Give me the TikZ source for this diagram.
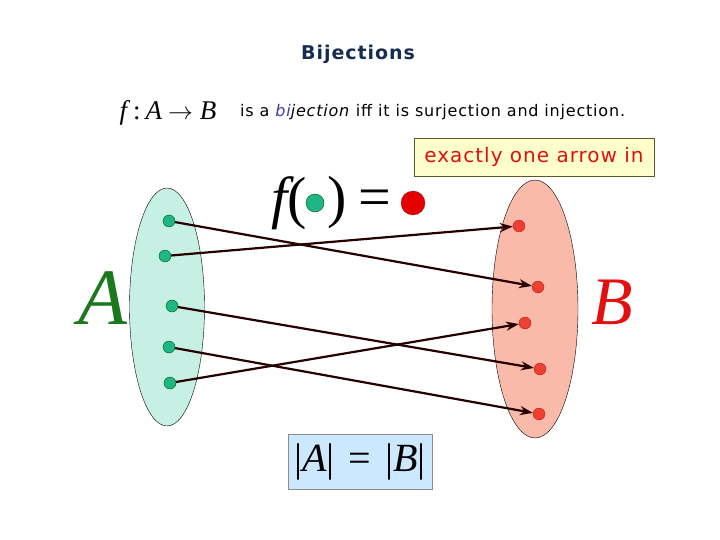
\documentclass[tikz,border=0pt]{standalone}
\usepackage{amsmath}
\usepackage{fontspec}
\setmainfont{Liberation Serif}
\newfontfamily\handfont[LetterSpace=5]{DejaVu Sans}
\usepackage{xcolor}
\usetikzlibrary{positioning,arrows.meta,shapes.geometric}
\definecolor{setAfill}{RGB}{198,240,228}
\definecolor{setBfill}{RGB}{250,186,170}
\definecolor{dotgreen}{RGB}{30,182,132}
\definecolor{dotred}{RGB}{238,64,48}
\definecolor{titleblue}{RGB}{22,44,80}
\definecolor{biblue}{RGB}{60,60,170}
\definecolor{greenA}{RGB}{28,120,28}
\definecolor{redB}{RGB}{226,16,16}
\definecolor{notefill}{RGB}{255,255,204}
\definecolor{eqfill}{RGB}{204,232,255}

\begin{document}
\begin{tikzpicture}[x=1pt, y=-1pt,
  setbox/.style={draw=black, thin, ellipse, inner sep=0pt},
  dotA/.style={circle, draw=green!35!black, fill=dotgreen, minimum size=12pt, inner sep=0pt},
  dotB/.style={circle, draw=red!60!black, very thin, fill=dotred, minimum size=12pt, inner sep=0pt},
  arr/.style={-{Stealth[length=13pt, width=9pt]}, line width=2.2pt, black!85!red},
  hand/.style={font=\handfont\fontsize{16}{19}\selectfont, inner sep=0pt},
  big/.style={font=\fontsize{58}{64}\selectfont, inner sep=0pt},
]
\useasboundingbox (0,0) rectangle (720,540);

% --- heading ---
\node[hand, font=\handfont\bfseries\fontsize{19}{23}\selectfont, text=titleblue] (title) at (358,54) {Bijections};
\node[inner sep=0pt, font=\fontsize{27}{30}\selectfont] (fmap) at (168,113)
  {\itshape f\upshape\hspace{6pt}:\hspace{5pt}\itshape A\hspace{6pt}\upshape$\rightarrow$\hspace{7pt}\itshape B};
\node[hand, anchor=west] (defn) at (240,112)
  {is a {\itshape\color{biblue}bi}\textit{jection} iff it is surjection and injection.};

% --- note ---
\node[draw=black!45!olive, fill=notefill, minimum width=240pt, minimum height=38pt,
      hand, font=\handfont\fontsize{20}{24}\selectfont, text=redB] (note) at (534,157) {exactly one arrow in};

% --- f(o) = o ---
\node[big, anchor=east] (fopen) at (307,203) {\itshape f\upshape(};
\node[dotA, minimum size=18pt] (fin) at (315,203) {};
\node[big, anchor=west] (fclose) at (327,203) {)};
\node[big] (feq) at (375,203) {=};
\node[dotB, draw=red!40!black, fill=red!90!black, minimum size=24pt] (fout) at (413,203) {};

% --- the two sets ---
\node[setbox, fill=setAfill, minimum width=75pt, minimum height=238pt] (setA) at (167,307) {};
\node[setbox, fill=setBfill, minimum width=86pt, minimum height=258pt] (setB) at (535,309) {};
\node[big, font=\fontsize{80}{90}\selectfont\itshape, text=greenA] (labA) at (103,298) {A};
\node[big, font=\fontsize{68}{76}\selectfont\itshape, text=redB] (labB) at (612,302) {B};

\node[dotA] (a1) at (169,221) {};
\node[dotA] (a2) at (165,256) {};
\node[dotA] (a3) at (172,306) {};
\node[dotA] (a4) at (169,347) {};
\node[dotA] (a5) at (170,383) {};

\node[dotB] (b1) at (519,226) {};
\node[dotB] (b2) at (538,287) {};
\node[dotB] (b3) at (525,323) {};
\node[dotB] (b4) at (540,369) {};
\node[dotB] (b5) at (539,414) {};

\draw[arr] (a1) -- (b2);
\draw[arr] (a2) -- (b1);
\draw[arr] (a3) -- (b4);
\draw[arr] (a4) -- (b5);
\draw[arr] (a5) -- (b3);

% --- sizes ---
\node[draw=black!45, fill=eqfill, minimum width=144pt, minimum height=55pt, inner sep=0pt,
      font=\fontsize{40}{46}\selectfont] (card) at (360,462)
  {|\itshape A\upshape|\hspace{14pt}=\hspace{14pt}|\itshape B\upshape|};
\end{tikzpicture}
\end{document}
